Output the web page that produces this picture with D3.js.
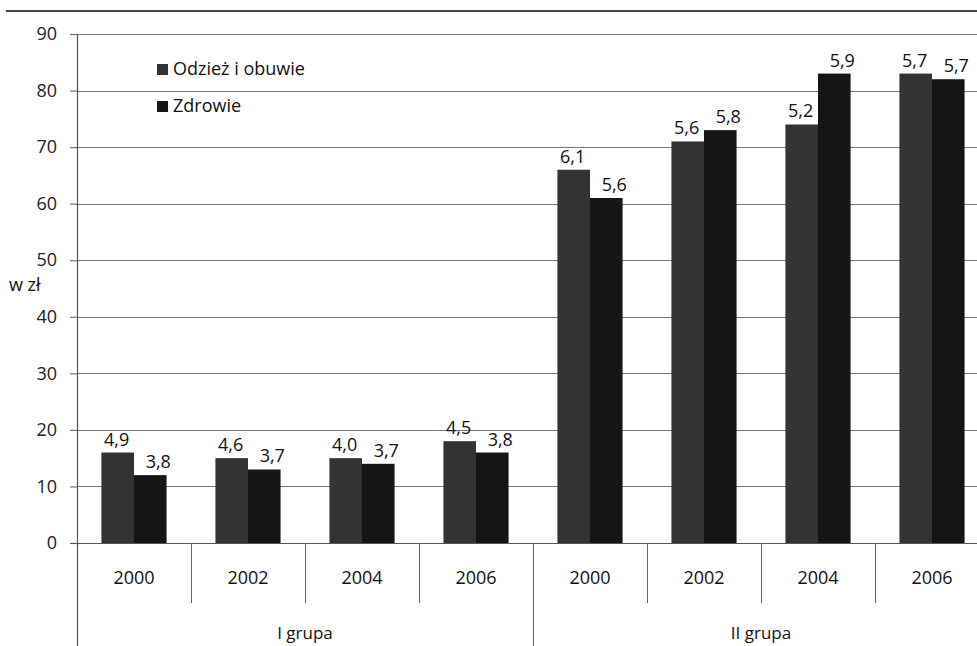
<!DOCTYPE html>
<html><head><meta charset="utf-8">
<script src="https://cdn.jsdelivr.net/npm/d3@7"></script>
<style>
html,body{margin:0;padding:0;background:#fff;}
svg{display:block;font-family:"Open Sans",sans-serif;}
</style></head>
<body><svg id="c" width="977" height="646"></svg>
<script>
const groups = ["I grupa", "II grupa"];
const years = ["2000", "2002", "2004", "2006"];
const seriesNames = ["Odzież i obuwie", "Zdrowie"];
const odziez = [16, 15, 15, 18, 66, 71, 74, 83];
const zdrowie = [12, 13, 14, 16, 61, 73, 83, 82];
const odziezLabels = ["4,9", "4,6", "4,0", "4,5", "6,1", "5,6", "5,2", "5,7"];
const zdrowieLabels = ["3,8", "3,7", "3,7", "3,8", "5,6", "5,8", "5,9", "5,7"];
const yTicks = [0, 10, 20, 30, 40, 50, 60, 70, 80, 90];
const yLabel = "w zł";
const colors = ["#333333", "#151515"];

(function () {
const cats = [];
groups.forEach((g, gi) => years.forEach((yr, yi) => cats.push({key: g + "-" + yr, group: g, year: yr, i: gi * years.length + yi})));
const seriesVals = [odziez, zdrowie];
const seriesLabs = [odziezLabels, zdrowieLabels];
const FONT = "'Open Sans', sans-serif";
const FS = 18;

const svg = d3.select("#c");
const pLeft = 77, pRight = 989, pTop = 34, pBottom = 543;

const x = d3.scaleBand().domain(cats.map(c => c.key)).range([pLeft, pRight]).paddingInner(0).paddingOuter(0);
const x1 = d3.scaleBand().domain(seriesNames).range([0, x.bandwidth()]).paddingInner(0).paddingOuter(0.75);
const y = d3.scaleLinear().domain([0, 90]).range([pBottom, pTop]);
const gx = d3.scaleBand().domain(groups).range([pLeft, pRight]);

// top rule
svg.append("line").attr("x1", 6).attr("x2", 977).attr("y1", 11).attr("y2", 11)
  .attr("stroke", "#444").attr("stroke-width", 2.2);

// gridlines + y axis
const yAxis = d3.axisLeft(y).tickValues(yTicks).tickSize(7).tickPadding(13).tickFormat(d3.format("d"));
const ya = svg.append("g").attr("transform", `translate(${pLeft},0)`).call(yAxis);
ya.select(".domain").remove();
ya.selectAll(".tick line").attr("stroke", "#777").attr("stroke-width", 1.2);
ya.selectAll(".tick text").attr("font-size", FS).attr("fill", "#222").attr("font-family", FONT);
svg.append("g").selectAll("line").data(yTicks.filter(t => t > 0)).join("line")
  .attr("x1", pLeft).attr("x2", pRight).attr("y1", d => Math.round(y(d)) + 0.5).attr("y2", d => Math.round(y(d)) + 0.5)
  .attr("stroke", "#777").attr("stroke-width", 1.2);

// bars
cats.forEach(c => {
  seriesNames.forEach((s, si) => {
    const v = seriesVals[si][c.i];
    svg.append("rect")
      .attr("x", x(c.key) + x1(s)).attr("width", x1.bandwidth())
      .attr("y", y(v)).attr("height", y(0) - y(v))
      .attr("fill", colors[si]);
    svg.append("text")
      .attr("x", x(c.key) + x1(s) + x1.bandwidth() / 2 + (si === 1 ? 8 : -1))
      .attr("y", y(v) - 7)
      .attr("text-anchor", "middle").attr("font-size", FS).attr("fill", "#111")
      .text(seriesLabs[si][c.i]);
  });
});

// x axis baseline
svg.append("line").attr("x1", 70).attr("x2", pRight).attr("y1", pBottom + 0.5).attr("y2", pBottom + 0.5)
  .attr("stroke", "#555").attr("stroke-width", 1.2);
// y axis line
svg.append("line").attr("x1", pLeft + 0.5).attr("x2", pLeft + 0.5).attr("y1", pTop).attr("y2", 646)
  .attr("stroke", "#555").attr("stroke-width", 1.2);

// category separators & labels
cats.forEach((c, i) => {
  if (i > 0) {
    const gsep = (i % years.length === 0);
    svg.append("line").attr("x1", Math.round(x(c.key)) + 0.5).attr("x2", Math.round(x(c.key)) + 0.5)
      .attr("y1", pBottom).attr("y2", gsep ? 646 : 603).attr("stroke", "#666").attr("stroke-width", 1);
  }
  svg.append("text").attr("x", x(c.key) + x.bandwidth() / 2).attr("y", 584)
    .attr("text-anchor", "middle").attr("font-size", FS).attr("fill", "#111").text(c.year);
});
groups.forEach(g => {
  svg.append("text").attr("x", gx(g) + gx.bandwidth() / 2).attr("y", 639)
    .attr("text-anchor", "middle").attr("font-size", 17).attr("fill", "#111").text(g);
});

// y label
svg.append("text").attr("x", 9).attr("y", 291).attr("font-size", FS).attr("fill", "#111").text(yLabel);

// legend
seriesNames.forEach((s, i) => {
  const ly = 75 + i * 37;
  svg.append("rect").attr("x", 157).attr("y", ly - 11).attr("width", 11).attr("height", 11).attr("fill", colors[i]);
  svg.append("text").attr("x", 173).attr("y", ly).attr("font-size", FS).attr("fill", "#111").text(s);
});
})();
</script></body></html>
